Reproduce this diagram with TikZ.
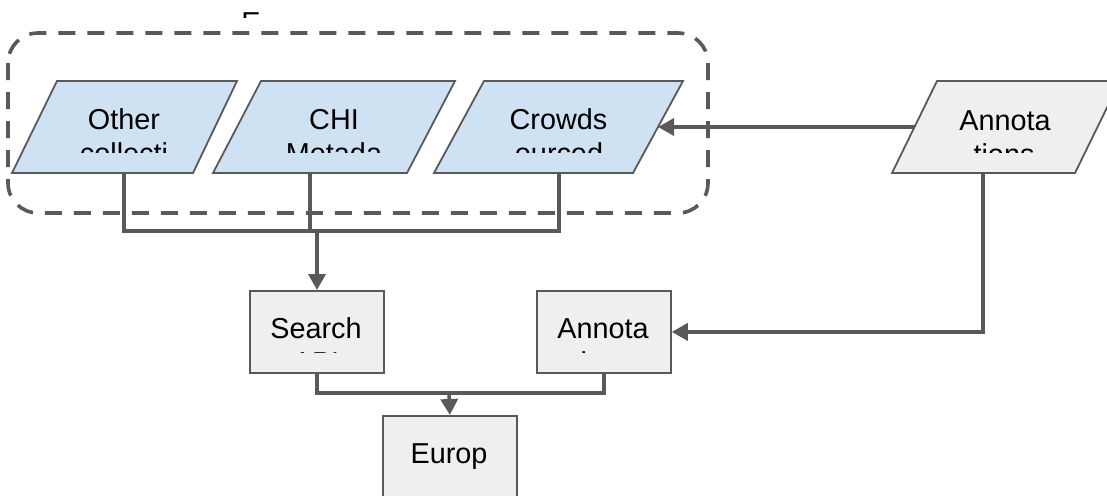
\documentclass[tikz,border=0pt]{standalone}
\usepackage{fontspec}
\setmainfont{Liberation Sans}
\usetikzlibrary{arrows.meta}
\definecolor{linegray}{HTML}{595959}
\definecolor{paleblue}{HTML}{CFE2F3}
\definecolor{palegray}{HTML}{EFEFEF}
\tikzset{
  conn/.style={draw=linegray, line width=3.6pt},
  arr/.style={conn, -{Triangle[length=16pt,width=17pt]}},
  para/.style={draw=linegray, line width=1.8pt, fill=paleblue, line join=miter},
  paragray/.style={para, fill=palegray},
  boxstyle/.style={draw=linegray, line width=1.8pt, fill=palegray, minimum width=134pt, minimum height=82pt, inner sep=0pt, anchor=north west},
  lbl/.style={font=\fontsize{28.8}{34}\selectfont, inner sep=0pt, anchor=base, text=black},
  grp/.style={draw=linegray, line width=3.6pt, dash pattern=on 17pt off 12pt, rounded corners=30pt}
}
\begin{document}
\begin{tikzpicture}[x=1pt,y=-1pt]
\useasboundingbox (0,0) rectangle (1107,495);
% clipped fragment at top
\begin{scope}
  \clip (230,0) rectangle (275,18);
  \node[lbl] (topfrag) at (251,33) {E};
\end{scope}
% group
\draw[grp] (8,33) rectangle (708,213);
% parallelograms
\draw[para] (12,173) -- (57,81) -- (237,81) -- (193,173) -- cycle;
\draw[para] (213,173) -- (261,81) -- (455,81) -- (407,173) -- cycle;
\draw[para] (434,173) -- (484,81) -- (683,81) -- (633,173) -- cycle;
\draw[paragray] (892,173) -- (937,81) -- (1120,81) -- (1075,173) -- cycle;
% boxes
\node[boxstyle] (search) at (249,290) {};
\node[boxstyle] (annbox) at (536,290) {};
\node[boxstyle] (europ) at (382,415) {};
% labels
\node[lbl] (otherA) at (124,129) {Other};
\node[lbl] (chiA) at (334,129) {CHI};
\node[lbl] (crowdsA) at (558.5,129) {Crowds};
\node[lbl] (annotA) at (1005,130) {Annota};
\begin{scope}
  \clip (0,81) rectangle (1107,152);
  \node[lbl] (otherB) at (124,163) {collecti};
  \node[lbl] (chiB) at (334,163) {Metada};
  \node[lbl] (crowdsB) at (559,163) {ourced};
  \node[lbl] (annotB) at (1004,164) {tions};
\end{scope}
\node[lbl] (searchA) at (316,338) {Search};
\node[lbl] (annboxA) at (603,338) {Annota};
\begin{scope}
  \clip (249,290) rectangle (670,352);
  \node[lbl] (searchB) at (316,372) {API};
  \node[lbl] (annboxB) at (603,372) {tions};
\end{scope}
\node[lbl] (europA) at (449,463) {Europ};
% connection points
\coordinate (otherOut) at (124,173);
\coordinate (chiOut) at (310,173);
\coordinate (crowdsOut) at (559,173);
\coordinate (crowdsIn) at (658,127);
\coordinate (annotOut) at (983,173);
\coordinate (annotLeft) at (914.5,127);
\coordinate (mergeTop) at (317,231);
\coordinate (mergeBot) at (449,393);
% connectors
\draw[conn] (otherOut) |- (mergeTop);
\draw[conn] (crowdsOut) |- (mergeTop);
\draw[conn] (chiOut) -- (chiOut |- mergeTop);
\draw[arr] (mergeTop) -- (search.north -| mergeTop);
\draw[arr] (annotLeft) -- (crowdsIn);
\draw[arr] (annotOut) |- (annbox.east);
\draw[conn] (search.south) |- (mergeBot);
\draw[conn] (annbox.south) |- (mergeBot);
\draw[arr] (mergeBot) -- (europ.north);
\end{tikzpicture}
\end{document}
